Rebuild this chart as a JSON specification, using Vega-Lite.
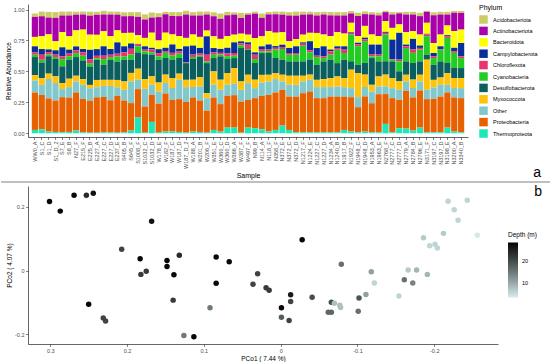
{
"$schema": "https://vega.github.io/schema/vega-lite/v6.json",
"padding": {"left": 0, "top": 4, "right": 0, "bottom": 0},
"bounds": "flush",
"spacing": 49,
"config": {
 "font": "Liberation Sans",
 "view": {"stroke": null},
 "axis": {"grid": false, "domainColor": "#000000", "domainWidth": 0.6, "tickColor": "#333333", "tickWidth": 0.6, "tickSize": 2.5, "labelColor": "#4d4d4d", "labelFontSize": 5.5, "labelPadding": 1.5, "titleFontSize": 6.5, "titleFontWeight": "normal", "titleColor": "#000000", "titlePadding": 2, "labelFont": "Liberation Sans", "titleFont": "Liberation Sans"},
 "legend": {"titleFontSize": 7, "titleFontWeight": "normal", "titleColor": "#000000", "labelFontSize": 5.5, "labelColor": "#000000", "titleFont": "Liberation Sans", "labelFont": "Liberation Sans"},
 "title": {"fontWeight": "normal", "font": "Liberation Sans", "fontSize": 14, "color": "#000000"}
},
"vconcat": [
{
 "width": 440, "height": 133,
 "title": {"text": "a", "orient": "bottom", "anchor": "end", "frame": "group", "dx": 73, "dy": -17},
 "data": {"values": [
{"Sample":"WW0_A","Thermoproteota":0.027,"Proteobacteria":0.303,"Other":0.097,"Myxococcota":0.043,"Desulfobacterota":0.146,"Cyanobacteria":0.019,"Chloroflexota":0.019,"Campylobacterota":0.049,"Bacteroidota":0.076,"Actinobacteriota":0.162,"Acidobacteriota":0.027},
{"Sample":"S1_C","Thermoproteota":0.032,"Proteobacteria":0.278,"Other":0.081,"Myxococcota":0.054,"Desulfobacterota":0.127,"Cyanobacteria":0.022,"Chloroflexota":0.041,"Campylobacterota":0.046,"Bacteroidota":0.103,"Actinobacteriota":0.162,"Acidobacteriota":0.038},
{"Sample":"S1_D","Thermoproteota":0.014,"Proteobacteria":0.268,"Other":0.157,"Myxococcota":0.043,"Desulfobacterota":0.141,"Cyanobacteria":0.014,"Chloroflexota":0.019,"Campylobacterota":0.022,"Bacteroidota":0.122,"Actinobacteriota":0.135,"Acidobacteriota":0.046},
{"Sample":"S1_D_2","Thermoproteota":0.011,"Proteobacteria":0.254,"Other":0.141,"Myxococcota":0.054,"Desulfobacterota":0.141,"Cyanobacteria":0.016,"Chloroflexota":0.019,"Campylobacterota":0.035,"Bacteroidota":0.073,"Actinobacteriota":0.189,"Acidobacteriota":0.046},
{"Sample":"S7_E","Thermoproteota":0.008,"Proteobacteria":0.284,"Other":0.065,"Myxococcota":0.049,"Desulfobacterota":0.135,"Cyanobacteria":0.059,"Chloroflexota":0.022,"Campylobacterota":0.073,"Bacteroidota":0.122,"Actinobacteriota":0.135,"Acidobacteriota":0.032},
{"Sample":"S8_B","Thermoproteota":0.011,"Proteobacteria":0.278,"Other":0.084,"Myxococcota":0.068,"Desulfobacterota":0.154,"Cyanobacteria":0.027,"Chloroflexota":0.022,"Campylobacterota":0.032,"Bacteroidota":0.108,"Actinobacteriota":0.168,"Acidobacteriota":0.032},
{"Sample":"N27_F","Thermoproteota":0.022,"Proteobacteria":0.308,"Other":0.089,"Myxococcota":0.046,"Desulfobacterota":0.151,"Cyanobacteria":0.032,"Chloroflexota":0.022,"Campylobacterota":0.032,"Bacteroidota":0.130,"Actinobacteriota":0.127,"Acidobacteriota":0.024},
{"Sample":"E215_F","Thermoproteota":0.008,"Proteobacteria":0.270,"Other":0.114,"Myxococcota":0.046,"Desulfobacterota":0.151,"Cyanobacteria":0.038,"Chloroflexota":0.027,"Campylobacterota":0.027,"Bacteroidota":0.157,"Actinobacteriota":0.122,"Acidobacteriota":0.024},
{"Sample":"E225_B","Thermoproteota":0.005,"Proteobacteria":0.259,"Other":0.100,"Myxococcota":0.027,"Desulfobacterota":0.149,"Cyanobacteria":0.027,"Chloroflexota":0.032,"Campylobacterota":0.076,"Bacteroidota":0.122,"Actinobacteriota":0.154,"Acidobacteriota":0.032},
{"Sample":"E227_A","Thermoproteota":0.005,"Proteobacteria":0.286,"Other":0.081,"Myxococcota":0.059,"Desulfobacterota":0.162,"Cyanobacteria":0.014,"Chloroflexota":0.019,"Campylobacterota":0.054,"Bacteroidota":0.116,"Actinobacteriota":0.162,"Acidobacteriota":0.024},
{"Sample":"E227_C","Thermoproteota":0.008,"Proteobacteria":0.286,"Other":0.089,"Myxococcota":0.049,"Desulfobacterota":0.122,"Cyanobacteria":0.046,"Chloroflexota":0.027,"Campylobacterota":0.076,"Bacteroidota":0.122,"Actinobacteriota":0.135,"Acidobacteriota":0.030},
{"Sample":"E227_D","Thermoproteota":0.008,"Proteobacteria":0.259,"Other":0.116,"Myxococcota":0.049,"Desulfobacterota":0.162,"Cyanobacteria":0.022,"Chloroflexota":0.019,"Campylobacterota":0.046,"Bacteroidota":0.103,"Actinobacteriota":0.176,"Acidobacteriota":0.024},
{"Sample":"E237_E","Thermoproteota":0.005,"Proteobacteria":0.297,"Other":0.070,"Myxococcota":0.059,"Desulfobacterota":0.149,"Cyanobacteria":0.041,"Chloroflexota":0.022,"Campylobacterota":0.092,"Bacteroidota":0.097,"Actinobacteriota":0.127,"Acidobacteriota":0.024},
{"Sample":"S405_B","Thermoproteota":0.008,"Proteobacteria":0.257,"Other":0.086,"Myxococcota":0.068,"Desulfobacterota":0.176,"Cyanobacteria":0.027,"Chloroflexota":0.032,"Campylobacterota":0.049,"Bacteroidota":0.108,"Actinobacteriota":0.135,"Acidobacteriota":0.032},
{"Sample":"S645_F","Thermoproteota":0.022,"Proteobacteria":0.222,"Other":0.176,"Myxococcota":0.068,"Desulfobacterota":0.108,"Cyanobacteria":0.041,"Chloroflexota":0.046,"Campylobacterota":0.043,"Bacteroidota":0.086,"Actinobacteriota":0.135,"Acidobacteriota":0.032},
{"Sample":"S1008_F","Thermoproteota":0.127,"Proteobacteria":0.230,"Other":0.076,"Myxococcota":0.089,"Desulfobacterota":0.132,"Cyanobacteria":0.049,"Chloroflexota":0.014,"Campylobacterota":0.005,"Bacteroidota":0.070,"Actinobacteriota":0.149,"Acidobacteriota":0.038},
{"Sample":"S1032_C","Thermoproteota":0.005,"Proteobacteria":0.211,"Other":0.143,"Myxococcota":0.078,"Desulfobacterota":0.203,"Cyanobacteria":0.022,"Chloroflexota":0.014,"Campylobacterota":0.027,"Bacteroidota":0.068,"Actinobacteriota":0.149,"Acidobacteriota":0.041},
{"Sample":"S1032_D","Thermoproteota":0.092,"Proteobacteria":0.219,"Other":0.081,"Myxococcota":0.068,"Desulfobacterota":0.176,"Cyanobacteria":0.019,"Chloroflexota":0.022,"Campylobacterota":0.014,"Bacteroidota":0.122,"Actinobacteriota":0.122,"Acidobacteriota":0.041},
{"Sample":"W178_E","Thermoproteota":0.005,"Proteobacteria":0.235,"Other":0.097,"Myxococcota":0.073,"Desulfobacterota":0.184,"Cyanobacteria":0.027,"Chloroflexota":0.027,"Campylobacterota":0.032,"Bacteroidota":0.070,"Actinobacteriota":0.189,"Acidobacteriota":0.032},
{"Sample":"W182_F","Thermoproteota":0.014,"Proteobacteria":0.308,"Other":0.084,"Myxococcota":0.068,"Desulfobacterota":0.135,"Cyanobacteria":0.041,"Chloroflexota":0.014,"Campylobacterota":0.027,"Bacteroidota":0.122,"Actinobacteriota":0.149,"Acidobacteriota":0.019},
{"Sample":"W187_C","Thermoproteota":0.014,"Proteobacteria":0.257,"Other":0.095,"Myxococcota":0.081,"Desulfobacterota":0.149,"Cyanobacteria":0.032,"Chloroflexota":0.022,"Campylobacterota":0.068,"Bacteroidota":0.081,"Actinobacteriota":0.149,"Acidobacteriota":0.032},
{"Sample":"W187_D","Thermoproteota":0.011,"Proteobacteria":0.265,"Other":0.157,"Myxococcota":0.049,"Desulfobacterota":0.127,"Cyanobacteria":0.035,"Chloroflexota":0.019,"Campylobacterota":0.019,"Bacteroidota":0.103,"Actinobacteriota":0.162,"Acidobacteriota":0.032},
{"Sample":"W187_D_2","Thermoproteota":0.005,"Proteobacteria":0.249,"Other":0.119,"Myxococcota":0.059,"Desulfobacterota":0.135,"Cyanobacteria":0.003,"Chloroflexota":0.003,"Campylobacterota":0.130,"Bacteroidota":0.068,"Actinobacteriota":0.189,"Acidobacteriota":0.030},
{"Sample":"W188_A","Thermoproteota":0.014,"Proteobacteria":0.276,"Other":0.084,"Myxococcota":0.059,"Desulfobacterota":0.168,"Cyanobacteria":0.016,"Chloroflexota":0.019,"Campylobacterota":0.073,"Bacteroidota":0.089,"Actinobacteriota":0.154,"Acidobacteriota":0.027},
{"Sample":"W201_B","Thermoproteota":0.011,"Proteobacteria":0.254,"Other":0.114,"Myxococcota":0.076,"Desulfobacterota":0.162,"Cyanobacteria":0.011,"Chloroflexota":0.016,"Campylobacterota":0.046,"Bacteroidota":0.089,"Actinobacteriota":0.173,"Acidobacteriota":0.032},
{"Sample":"W206_F","Thermoproteota":0.005,"Proteobacteria":0.178,"Other":0.100,"Myxococcota":0.041,"Desulfobacterota":0.243,"Cyanobacteria":0.014,"Chloroflexota":0.054,"Campylobacterota":0.149,"Bacteroidota":0.046,"Actinobacteriota":0.130,"Acidobacteriota":0.024},
{"Sample":"W351_E","Thermoproteota":0.027,"Proteobacteria":0.262,"Other":0.103,"Myxococcota":0.108,"Desulfobacterota":0.108,"Cyanobacteria":0.027,"Chloroflexota":0.019,"Campylobacterota":0.035,"Bacteroidota":0.095,"Actinobacteriota":0.162,"Acidobacteriota":0.032},
{"Sample":"W360_C","Thermoproteota":0.014,"Proteobacteria":0.222,"Other":0.116,"Myxococcota":0.081,"Desulfobacterota":0.189,"Cyanobacteria":0.014,"Chloroflexota":0.014,"Campylobacterota":0.032,"Bacteroidota":0.081,"Actinobacteriota":0.162,"Acidobacteriota":0.043},
{"Sample":"W360_D","Thermoproteota":0.046,"Proteobacteria":0.257,"Other":0.089,"Myxococcota":0.095,"Desulfobacterota":0.114,"Cyanobacteria":0.022,"Chloroflexota":0.022,"Campylobacterota":0.046,"Bacteroidota":0.095,"Actinobacteriota":0.168,"Acidobacteriota":0.027},
{"Sample":"W366_A","Thermoproteota":0.046,"Proteobacteria":0.262,"Other":0.092,"Myxococcota":0.127,"Desulfobacterota":0.081,"Cyanobacteria":0.019,"Chloroflexota":0.022,"Campylobacterota":0.086,"Bacteroidota":0.062,"Actinobacteriota":0.162,"Acidobacteriota":0.019},
{"Sample":"W387_F","Thermoproteota":0.005,"Proteobacteria":0.251,"Other":0.095,"Myxococcota":0.068,"Desulfobacterota":0.270,"Cyanobacteria":0.022,"Chloroflexota":0.016,"Campylobacterota":0.016,"Bacteroidota":0.062,"Actinobacteriota":0.127,"Acidobacteriota":0.041},
{"Sample":"W497_F","Thermoproteota":0.046,"Proteobacteria":0.224,"Other":0.135,"Myxococcota":0.068,"Desulfobacterota":0.203,"Cyanobacteria":0.005,"Chloroflexota":0.035,"Campylobacterota":0.019,"Bacteroidota":0.062,"Actinobacteriota":0.162,"Acidobacteriota":0.014},
{"Sample":"N99_B","Thermoproteota":0.041,"Proteobacteria":0.243,"Other":0.081,"Myxococcota":0.068,"Desulfobacterota":0.135,"Cyanobacteria":0.032,"Chloroflexota":0.035,"Campylobacterota":0.019,"Bacteroidota":0.116,"Actinobacteriota":0.197,"Acidobacteriota":0.016},
{"Sample":"N114_A","Thermoproteota":0.032,"Proteobacteria":0.270,"Other":0.108,"Myxococcota":0.062,"Desulfobacterota":0.176,"Cyanobacteria":0.014,"Chloroflexota":0.019,"Campylobacterota":0.022,"Bacteroidota":0.081,"Actinobacteriota":0.149,"Acidobacteriota":0.035},
{"Sample":"N118_F","Thermoproteota":0.014,"Proteobacteria":0.297,"Other":0.108,"Myxococcota":0.054,"Desulfobacterota":0.176,"Cyanobacteria":0.014,"Chloroflexota":0.014,"Campylobacterota":0.041,"Bacteroidota":0.108,"Actinobacteriota":0.135,"Acidobacteriota":0.019},
{"Sample":"N358_F","Thermoproteota":0.027,"Proteobacteria":0.303,"Other":0.108,"Myxococcota":0.049,"Desulfobacterota":0.122,"Cyanobacteria":0.068,"Chloroflexota":0.014,"Campylobacterota":0.014,"Bacteroidota":0.108,"Actinobacteriota":0.149,"Acidobacteriota":0.022},
{"Sample":"N372_E","Thermoproteota":0.062,"Proteobacteria":0.289,"Other":0.068,"Myxococcota":0.054,"Desulfobacterota":0.122,"Cyanobacteria":0.086,"Chloroflexota":0.016,"Campylobacterota":0.019,"Bacteroidota":0.100,"Actinobacteriota":0.143,"Acidobacteriota":0.024},
{"Sample":"N372_C","Thermoproteota":0.027,"Proteobacteria":0.270,"Other":0.095,"Myxococcota":0.073,"Desulfobacterota":0.116,"Cyanobacteria":0.054,"Chloroflexota":0.014,"Campylobacterota":0.041,"Bacteroidota":0.054,"Actinobacteriota":0.208,"Acidobacteriota":0.027},
{"Sample":"N372_D","Thermoproteota":0.008,"Proteobacteria":0.289,"Other":0.095,"Myxococcota":0.073,"Desulfobacterota":0.116,"Cyanobacteria":0.054,"Chloroflexota":0.014,"Campylobacterota":0.054,"Bacteroidota":0.059,"Actinobacteriota":0.189,"Acidobacteriota":0.032},
{"Sample":"N1217_F","Thermoproteota":0.008,"Proteobacteria":0.316,"Other":0.095,"Myxococcota":0.046,"Desulfobacterota":0.116,"Cyanobacteria":0.127,"Chloroflexota":0.016,"Campylobacterota":0.011,"Bacteroidota":0.062,"Actinobacteriota":0.162,"Acidobacteriota":0.024},
{"Sample":"N1224_E","Thermoproteota":0.008,"Proteobacteria":0.330,"Other":0.095,"Myxococcota":0.041,"Desulfobacterota":0.122,"Cyanobacteria":0.059,"Chloroflexota":0.016,"Campylobacterota":0.073,"Bacteroidota":0.068,"Actinobacteriota":0.149,"Acidobacteriota":0.022},
{"Sample":"N1227_C","Thermoproteota":0.008,"Proteobacteria":0.276,"Other":0.089,"Myxococcota":0.059,"Desulfobacterota":0.122,"Cyanobacteria":0.062,"Chloroflexota":0.011,"Campylobacterota":0.062,"Bacteroidota":0.122,"Actinobacteriota":0.141,"Acidobacteriota":0.027},
{"Sample":"N1227_D","Thermoproteota":0.008,"Proteobacteria":0.276,"Other":0.089,"Myxococcota":0.065,"Desulfobacterota":0.143,"Cyanobacteria":0.027,"Chloroflexota":0.014,"Campylobacterota":0.081,"Bacteroidota":0.095,"Actinobacteriota":0.162,"Acidobacteriota":0.022},
{"Sample":"N1234_A","Thermoproteota":0.008,"Proteobacteria":0.289,"Other":0.076,"Myxococcota":0.073,"Desulfobacterota":0.149,"Cyanobacteria":0.041,"Chloroflexota":0.027,"Campylobacterota":0.014,"Bacteroidota":0.108,"Actinobacteriota":0.168,"Acidobacteriota":0.027},
{"Sample":"N1240_B","Thermoproteota":0.008,"Proteobacteria":0.289,"Other":0.081,"Myxococcota":0.081,"Desulfobacterota":0.108,"Cyanobacteria":0.108,"Chloroflexota":0.014,"Campylobacterota":0.014,"Bacteroidota":0.114,"Actinobacteriota":0.135,"Acidobacteriota":0.027},
{"Sample":"N1917_B","Thermoproteota":0.027,"Proteobacteria":0.270,"Other":0.076,"Myxococcota":0.073,"Desulfobacterota":0.149,"Cyanobacteria":0.054,"Chloroflexota":0.027,"Campylobacterota":0.027,"Bacteroidota":0.103,"Actinobacteriota":0.146,"Acidobacteriota":0.027},
{"Sample":"N1922_F","Thermoproteota":0.014,"Proteobacteria":0.278,"Other":0.073,"Myxococcota":0.149,"Desulfobacterota":0.068,"Cyanobacteria":0.216,"Chloroflexota":0.014,"Campylobacterota":0.005,"Bacteroidota":0.076,"Actinobacteriota":0.076,"Acidobacteriota":0.019},
{"Sample":"N1948_C","Thermoproteota":0.008,"Proteobacteria":0.203,"Other":0.081,"Myxococcota":0.195,"Desulfobacterota":0.068,"Cyanobacteria":0.149,"Chloroflexota":0.014,"Campylobacterota":0.014,"Bacteroidota":0.054,"Actinobacteriota":0.162,"Acidobacteriota":0.027},
{"Sample":"N1948_D","Thermoproteota":0.014,"Proteobacteria":0.284,"Other":0.076,"Myxococcota":0.100,"Desulfobacterota":0.095,"Cyanobacteria":0.176,"Chloroflexota":0.014,"Campylobacterota":0.014,"Bacteroidota":0.095,"Actinobacteriota":0.095,"Acidobacteriota":0.022},
{"Sample":"N1953_A","Thermoproteota":0.008,"Proteobacteria":0.235,"Other":0.095,"Myxococcota":0.054,"Desulfobacterota":0.216,"Cyanobacteria":0.014,"Chloroflexota":0.014,"Campylobacterota":0.081,"Bacteroidota":0.081,"Actinobacteriota":0.162,"Acidobacteriota":0.019},
{"Sample":"N1963_E","Thermoproteota":0.008,"Proteobacteria":0.308,"Other":0.062,"Myxococcota":0.081,"Desulfobacterota":0.122,"Cyanobacteria":0.041,"Chloroflexota":0.014,"Campylobacterota":0.081,"Bacteroidota":0.068,"Actinobacteriota":0.168,"Acidobacteriota":0.022},
{"Sample":"N2768_F","Thermoproteota":0.076,"Proteobacteria":0.241,"Other":0.062,"Myxococcota":0.095,"Desulfobacterota":0.108,"Cyanobacteria":0.216,"Chloroflexota":0.014,"Campylobacterota":0.008,"Bacteroidota":0.086,"Actinobacteriota":0.073,"Acidobacteriota":0.011},
{"Sample":"N2777_C","Thermoproteota":0.008,"Proteobacteria":0.276,"Other":0.081,"Myxococcota":0.081,"Desulfobacterota":0.135,"Cyanobacteria":0.014,"Chloroflexota":0.005,"Campylobacterota":0.157,"Bacteroidota":0.095,"Actinobacteriota":0.108,"Acidobacteriota":0.019},
{"Sample":"N2777_D","Thermoproteota":0.041,"Proteobacteria":0.230,"Other":0.081,"Myxococcota":0.068,"Desulfobacterota":0.081,"Cyanobacteria":0.081,"Chloroflexota":0.014,"Campylobacterota":0.216,"Bacteroidota":0.068,"Actinobacteriota":0.089,"Acidobacteriota":0.011},
{"Sample":"N2779_A","Thermoproteota":0.038,"Proteobacteria":0.305,"Other":0.076,"Myxococcota":0.054,"Desulfobacterota":0.108,"Cyanobacteria":0.108,"Chloroflexota":0.014,"Campylobacterota":0.014,"Bacteroidota":0.100,"Actinobacteriota":0.143,"Acidobacteriota":0.022},
{"Sample":"N2784_B","Thermoproteota":0.022,"Proteobacteria":0.268,"Other":0.076,"Myxococcota":0.068,"Desulfobacterota":0.135,"Cyanobacteria":0.081,"Chloroflexota":0.027,"Campylobacterota":0.086,"Bacteroidota":0.062,"Actinobacteriota":0.135,"Acidobacteriota":0.022},
{"Sample":"N2796_E","Thermoproteota":0.046,"Proteobacteria":0.300,"Other":0.073,"Myxococcota":0.054,"Desulfobacterota":0.108,"Cyanobacteria":0.095,"Chloroflexota":0.014,"Campylobacterota":0.019,"Bacteroidota":0.089,"Actinobacteriota":0.149,"Acidobacteriota":0.027},
{"Sample":"N3171_F","Thermoproteota":0.008,"Proteobacteria":0.268,"Other":0.076,"Myxococcota":0.243,"Desulfobacterota":0.041,"Cyanobacteria":0.149,"Chloroflexota":0.014,"Campylobacterota":0.005,"Bacteroidota":0.089,"Actinobacteriota":0.089,"Acidobacteriota":0.008},
{"Sample":"N3197_C","Thermoproteota":0.008,"Proteobacteria":0.270,"Other":0.092,"Myxococcota":0.062,"Desulfobacterota":0.122,"Cyanobacteria":0.054,"Chloroflexota":0.014,"Campylobacterota":0.027,"Bacteroidota":0.081,"Actinobacteriota":0.224,"Acidobacteriota":0.024},
{"Sample":"N3197_D","Thermoproteota":0.008,"Proteobacteria":0.289,"Other":0.095,"Myxococcota":0.059,"Desulfobacterota":0.130,"Cyanobacteria":0.095,"Chloroflexota":0.005,"Campylobacterota":0.022,"Bacteroidota":0.095,"Actinobacteriota":0.162,"Acidobacteriota":0.022},
{"Sample":"N3198_E","Thermoproteota":0.046,"Proteobacteria":0.284,"Other":0.062,"Myxococcota":0.095,"Desulfobacterota":0.081,"Cyanobacteria":0.203,"Chloroflexota":0.014,"Campylobacterota":0.008,"Bacteroidota":0.078,"Actinobacteriota":0.089,"Acidobacteriota":0.022},
{"Sample":"N3200_A","Thermoproteota":0.014,"Proteobacteria":0.276,"Other":0.076,"Myxococcota":0.081,"Desulfobacterota":0.081,"Cyanobacteria":0.122,"Chloroflexota":0.014,"Campylobacterota":0.027,"Bacteroidota":0.135,"Actinobacteriota":0.149,"Acidobacteriota":0.014},
{"Sample":"N3340_B","Thermoproteota":0.008,"Proteobacteria":0.276,"Other":0.081,"Myxococcota":0.081,"Desulfobacterota":0.081,"Cyanobacteria":0.081,"Chloroflexota":0.014,"Campylobacterota":0.108,"Bacteroidota":0.108,"Actinobacteriota":0.135,"Acidobacteriota":0.016}
 ]},
 "transform": [{"fold": ["Acidobacteriota","Actinobacteriota","Bacteroidota","Campylobacterota","Chloroflexota","Cyanobacteria","Desulfobacterota","Myxococcota","Other","Proteobacteria","Thermoproteota"], "as": ["Phylum", "Abundance"]}],
 "mark": {"type": "bar"},
 "encoding": {
  "x": {"field": "Sample", "type": "nominal", "sort": null, "scale": {"paddingInner": 0.1, "paddingOuter": 0.55}, "axis": {"title": "Sample", "labelAngle": -90, "labelFontSize": 5.5, "titleFontSize": 7, "titlePadding": 3}},
  "y": {"field": "Abundance", "type": "quantitative", "stack": "zero", "scale": {"domain": [-0.03, 1.045], "nice": false, "zero": false}, "axis": {"title": "Relative Abundance", "values": [0, 0.25, 0.5, 0.75, 1], "format": ".2f"}},
  "color": {"field": "Phylum", "type": "nominal",
   "scale": {"domain": ["Acidobacteriota","Actinobacteriota","Bacteroidota","Campylobacterota","Chloroflexota","Cyanobacteria","Desulfobacterota","Myxococcota","Other","Proteobacteria","Thermoproteota"],
             "range": ["#cccc66","#aa00aa","#ffff00","#0a2f9a","#e8336e","#22cc22","#0b5e5e","#ffc30b","#80c8cc","#e86100","#1ee6b4"]},
   "legend": {"title": "Phylum", "symbolType": "square", "symbolSize": 72, "symbolStrokeWidth": 0, "symbolOpacity": 1, "rowPadding": 2.4, "offset": 11, "labelOffset": 5, "titlePadding": 4}},
  "order": {"field": "Phylum", "sort": "descending"}
 }
},
{
 "width": 470, "height": 158,
 "title": {"text": "b", "orient": "top", "anchor": "end", "frame": "group", "dx": 44, "dy": 22},
 "layer": [
  {
   "data": {"values": [{"divider": 1}]},
   "mark": {"type": "rule", "color": "#808080", "strokeWidth": 1.2},
   "encoding": {
    "x": {"datum": 0.3642, "type": "quantitative", "scale": {"domain": [-0.283, 0.329], "reverse": true, "nice": false, "zero": false}},
    "x2": {"datum": -0.352},
    "y": {"datum": 0.2786, "type": "quantitative", "scale": {"domain": [-0.231, 0.266], "nice": false, "zero": false}}
   }
  },
  {
   "data": {"values": [
{"PCo1":0.301,"PCo2":0.217,"Depth":28},
{"PCo1":0.287,"PCo2":0.187,"Depth":28},
{"PCo1":0.269,"PCo2":0.237,"Depth":28},
{"PCo1":0.253,"PCo2":0.237,"Depth":24},
{"PCo1":0.244,"PCo2":0.243,"Depth":27},
{"PCo1":0.168,"PCo2":0.155,"Depth":27},
{"PCo1":0.207,"PCo2":0.067,"Depth":21},
{"PCo1":0.183,"PCo2":0.037,"Depth":28},
{"PCo1":0.182,"PCo2":-0.012,"Depth":22},
{"PCo1":0.175,"PCo2":-0.002,"Depth":22},
{"PCo1":0.148,"PCo2":0.032,"Depth":28},
{"PCo1":0.148,"PCo2":0.013,"Depth":28},
{"PCo1":0.132,"PCo2":0.048,"Depth":24},
{"PCo1":0.139,"PCo2":-0.013,"Depth":28},
{"PCo1":0.140,"PCo2":-0.093,"Depth":22},
{"PCo1":0.250,"PCo2":-0.106,"Depth":28},
{"PCo1":0.231,"PCo2":-0.149,"Depth":21},
{"PCo1":0.228,"PCo2":-0.159,"Depth":21},
{"PCo1":0.126,"PCo2":-0.204,"Depth":15},
{"PCo1":0.113,"PCo2":-0.208,"Depth":28},
{"PCo1":0.084,"PCo2":0.043,"Depth":28},
{"PCo1":0.067,"PCo2":0.028,"Depth":28},
{"PCo1":0.084,"PCo2":-0.040,"Depth":28},
{"PCo1":0.092,"PCo2":-0.117,"Depth":15},
{"PCo1":0.036,"PCo2":-0.043,"Depth":21},
{"PCo1":0.030,"PCo2":-0.010,"Depth":21},
{"PCo1":0.019,"PCo2":-0.054,"Depth":22},
{"PCo1":0.015,"PCo2":-0.062,"Depth":22},
{"PCo1":-0.001,"PCo2":-0.117,"Depth":28},
{"PCo1":-0.001,"PCo2":-0.147,"Depth":18},
{"PCo1":-0.028,"PCo2":0.097,"Depth":28},
{"PCo1":-0.013,"PCo2":-0.076,"Depth":26},
{"PCo1":-0.013,"PCo2":-0.097,"Depth":21},
{"PCo1":-0.011,"PCo2":-0.157,"Depth":21},
{"PCo1":-0.041,"PCo2":-0.084,"Depth":20},
{"PCo1":-0.066,"PCo2":-0.100,"Depth":20},
{"PCo1":-0.070,"PCo2":-0.103,"Depth":8},
{"PCo1":-0.077,"PCo2":-0.109,"Depth":8},
{"PCo1":-0.078,"PCo2":-0.116,"Depth":8},
{"PCo1":-0.062,"PCo2":-0.131,"Depth":17},
{"PCo1":-0.066,"PCo2":-0.131,"Depth":17},
{"PCo1":-0.079,"PCo2":0.020,"Depth":16},
{"PCo1":-0.102,"PCo2":-0.086,"Depth":19},
{"PCo1":-0.101,"PCo2":-0.128,"Depth":16},
{"PCo1":-0.111,"PCo2":-0.075,"Depth":11},
{"PCo1":-0.118,"PCo2":-0.004,"Depth":11},
{"PCo1":-0.122,"PCo2":-0.039,"Depth":6},
{"PCo1":-0.154,"PCo2":-0.080,"Depth":6},
{"PCo1":-0.161,"PCo2":-0.029,"Depth":16},
{"PCo1":-0.172,"PCo2":-0.039,"Depth":14},
{"PCo1":-0.166,"PCo2":0.002,"Depth":7},
{"PCo1":-0.177,"PCo2":0.002,"Depth":9},
{"PCo1":-0.191,"PCo2":-0.012,"Depth":9},
{"PCo1":-0.186,"PCo2":0.103,"Depth":7},
{"PCo1":-0.194,"PCo2":0.078,"Depth":6},
{"PCo1":-0.201,"PCo2":0.083,"Depth":6},
{"PCo1":-0.204,"PCo2":0.071,"Depth":6},
{"PCo1":-0.212,"PCo2":0.117,"Depth":7},
{"PCo1":-0.218,"PCo2":0.218,"Depth":6},
{"PCo1":-0.226,"PCo2":0.191,"Depth":6},
{"PCo1":-0.231,"PCo2":0.158,"Depth":6},
{"PCo1":-0.243,"PCo2":0.221,"Depth":6},
{"PCo1":-0.256,"PCo2":0.111,"Depth":4}
   ]},
   "mark": {"type": "circle", "size": 30, "opacity": 1},
   "encoding": {
    "x": {"field": "PCo1", "type": "quantitative", "scale": {"domain": [-0.283, 0.329], "reverse": true, "nice": false, "zero": false},
          "axis": {"title": "PCo1 ( 7.44  %)", "values": [-0.2, -0.1, 0, 0.1, 0.2, 0.3], "labelExpr": "datum.value == 0 ? '0' : (datum.value < 0 ? '-' + format(-datum.value, '.1f') : format(datum.value, '.1f'))"}},
    "y": {"field": "PCo2", "type": "quantitative", "scale": {"domain": [-0.231, 0.266], "nice": false, "zero": false},
          "axis": {"title": "PCo2 ( 4.07  %)", "values": [-0.2, -0.1, 0, 0.1, 0.2], "labelExpr": "datum.value == 0 ? '0' : (datum.value < 0 ? '-' + format(-datum.value, '.1f') : format(datum.value, '.1f'))"}},
    "color": {"field": "Depth", "type": "quantitative", "scale": {"domain": [3.6, 28.6], "range": ["#d6eeee", "#000000"], "interpolate": "lab"},
              "legend": {"title": "Depth (m)", "orient": "none", "legendX": 480, "legendY": 46, "direction": "vertical", "values": [10, 20], "gradientLength": 55, "gradientThickness": 10, "labelOffset": 4, "titlePadding": 4, "titleFontSize": 6.5}}
   }
  }
 ]
}
]
}
